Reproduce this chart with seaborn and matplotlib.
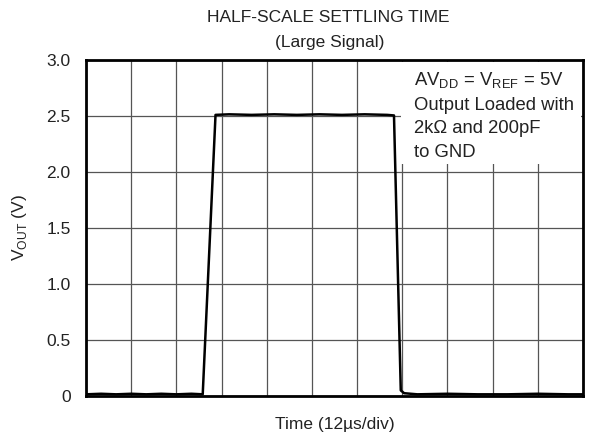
import matplotlib
matplotlib.use("Agg")
import matplotlib.pyplot as plt
import seaborn as sns
import pandas as pd
import numpy as np

# Data (time in µs, 12 µs/div, 11 divisions)
time_us = [0.0, 4.0, 8.0, 12.0, 16.0, 20.0, 24.0, 28.0, 31.0, 34.4, 38.0, 44.0, 50.0,
           56.0, 62.0, 68.0, 74.0, 80.0, 81.8, 83.6, 84.5, 88.0, 96.0, 104.0, 112.0,
           120.0, 128.0, 132.0]
vout_v = [0.015, 0.02, 0.015, 0.02, 0.015, 0.02, 0.015, 0.02, 0.015, 2.51, 2.515, 2.51, 2.515,
          2.51, 2.515, 2.51, 2.515, 2.51, 2.505, 0.05, 0.025, 0.015, 0.02, 0.015, 0.015,
          0.02, 0.015, 0.015]
y_ticks = [0, 0.5, 1.0, 1.5, 2.0, 2.5, 3.0]
y_tick_labels = ["0", "0.5", "1.0", "1.5", "2.0", "2.5", "3.0"]
div_us = 12
n_div = 11
note_lines = ["AV$_{\\mathregular{DD}}$ = V$_{\\mathregular{REF}}$ = 5V",
              "Output Loaded with", "2kΩ and 200pF", "to GND"]

df = pd.DataFrame({"t": time_us, "v": vout_v})

sns.set_theme(style="white")
plt.rcParams["font.family"] = ["Liberation Sans", "DejaVu Sans"]

FS = 12.5
TC = "#222222"

fig = plt.figure(figsize=(5.92, 4.33), dpi=100)
ax = fig.add_axes([86 / 592, 1 - 396 / 433, (583 - 86) / 592, (396 - 60) / 433])

sns.lineplot(data=df, x="t", y="v", ax=ax, color="black", linewidth=1.8, zorder=3)

ax.set_xlim(0, div_us * n_div)
ax.set_ylim(0, 3.0)
ax.set_xticks(np.arange(0, div_us * n_div + 1, div_us))
ax.set_xticklabels([])
ax.set_yticks(y_ticks)
ax.set_yticklabels(y_tick_labels, fontsize=FS, color=TC)
ax.tick_params(axis="both", length=0, pad=11)
ax.grid(True, color="#555555", linewidth=0.9)
for s in ax.spines.values():
    s.set_color("black")
    s.set_linewidth(2.0)
    s.set_zorder(5)

ax.set_xlabel("Time (12µs/div)", fontsize=FS, color=TC)
ax.xaxis.label.set_va("center")
ax.xaxis.set_label_coords(0.5, (396 - 425) / 336)
ax.set_ylabel("V$_{\\mathregular{OUT}}$ (V)", fontsize=FS, color=TC)
ax.yaxis.label.set_va("center")
ax.yaxis.set_label_coords((20 - 86) / 497, 0.5)

fig.text(328 / 592, 1 - 18 / 433, "HALF-SCALE SETTLING TIME",
         ha="center", va="center", fontsize=FS, color=TC)
fig.text(330 / 592, 1 - 42 / 433, "(Large Signal)",
         ha="center", va="center", fontsize=FS, color=TC)

# annotation box
ax.add_patch(plt.Rectangle((0.6345, 0.69), 0.362, 0.303, transform=ax.transAxes,
                           facecolor="white", edgecolor="none", zorder=4))
for line, base_px in zip(note_lines, [85, 110, 133.5, 157]):
    ax.text(0.66, (396 - base_px) / 336, line, transform=ax.transAxes, ha="left",
            va="baseline", fontsize=13.3, color=TC, zorder=6)

fig.savefig("out.png", dpi=100)
